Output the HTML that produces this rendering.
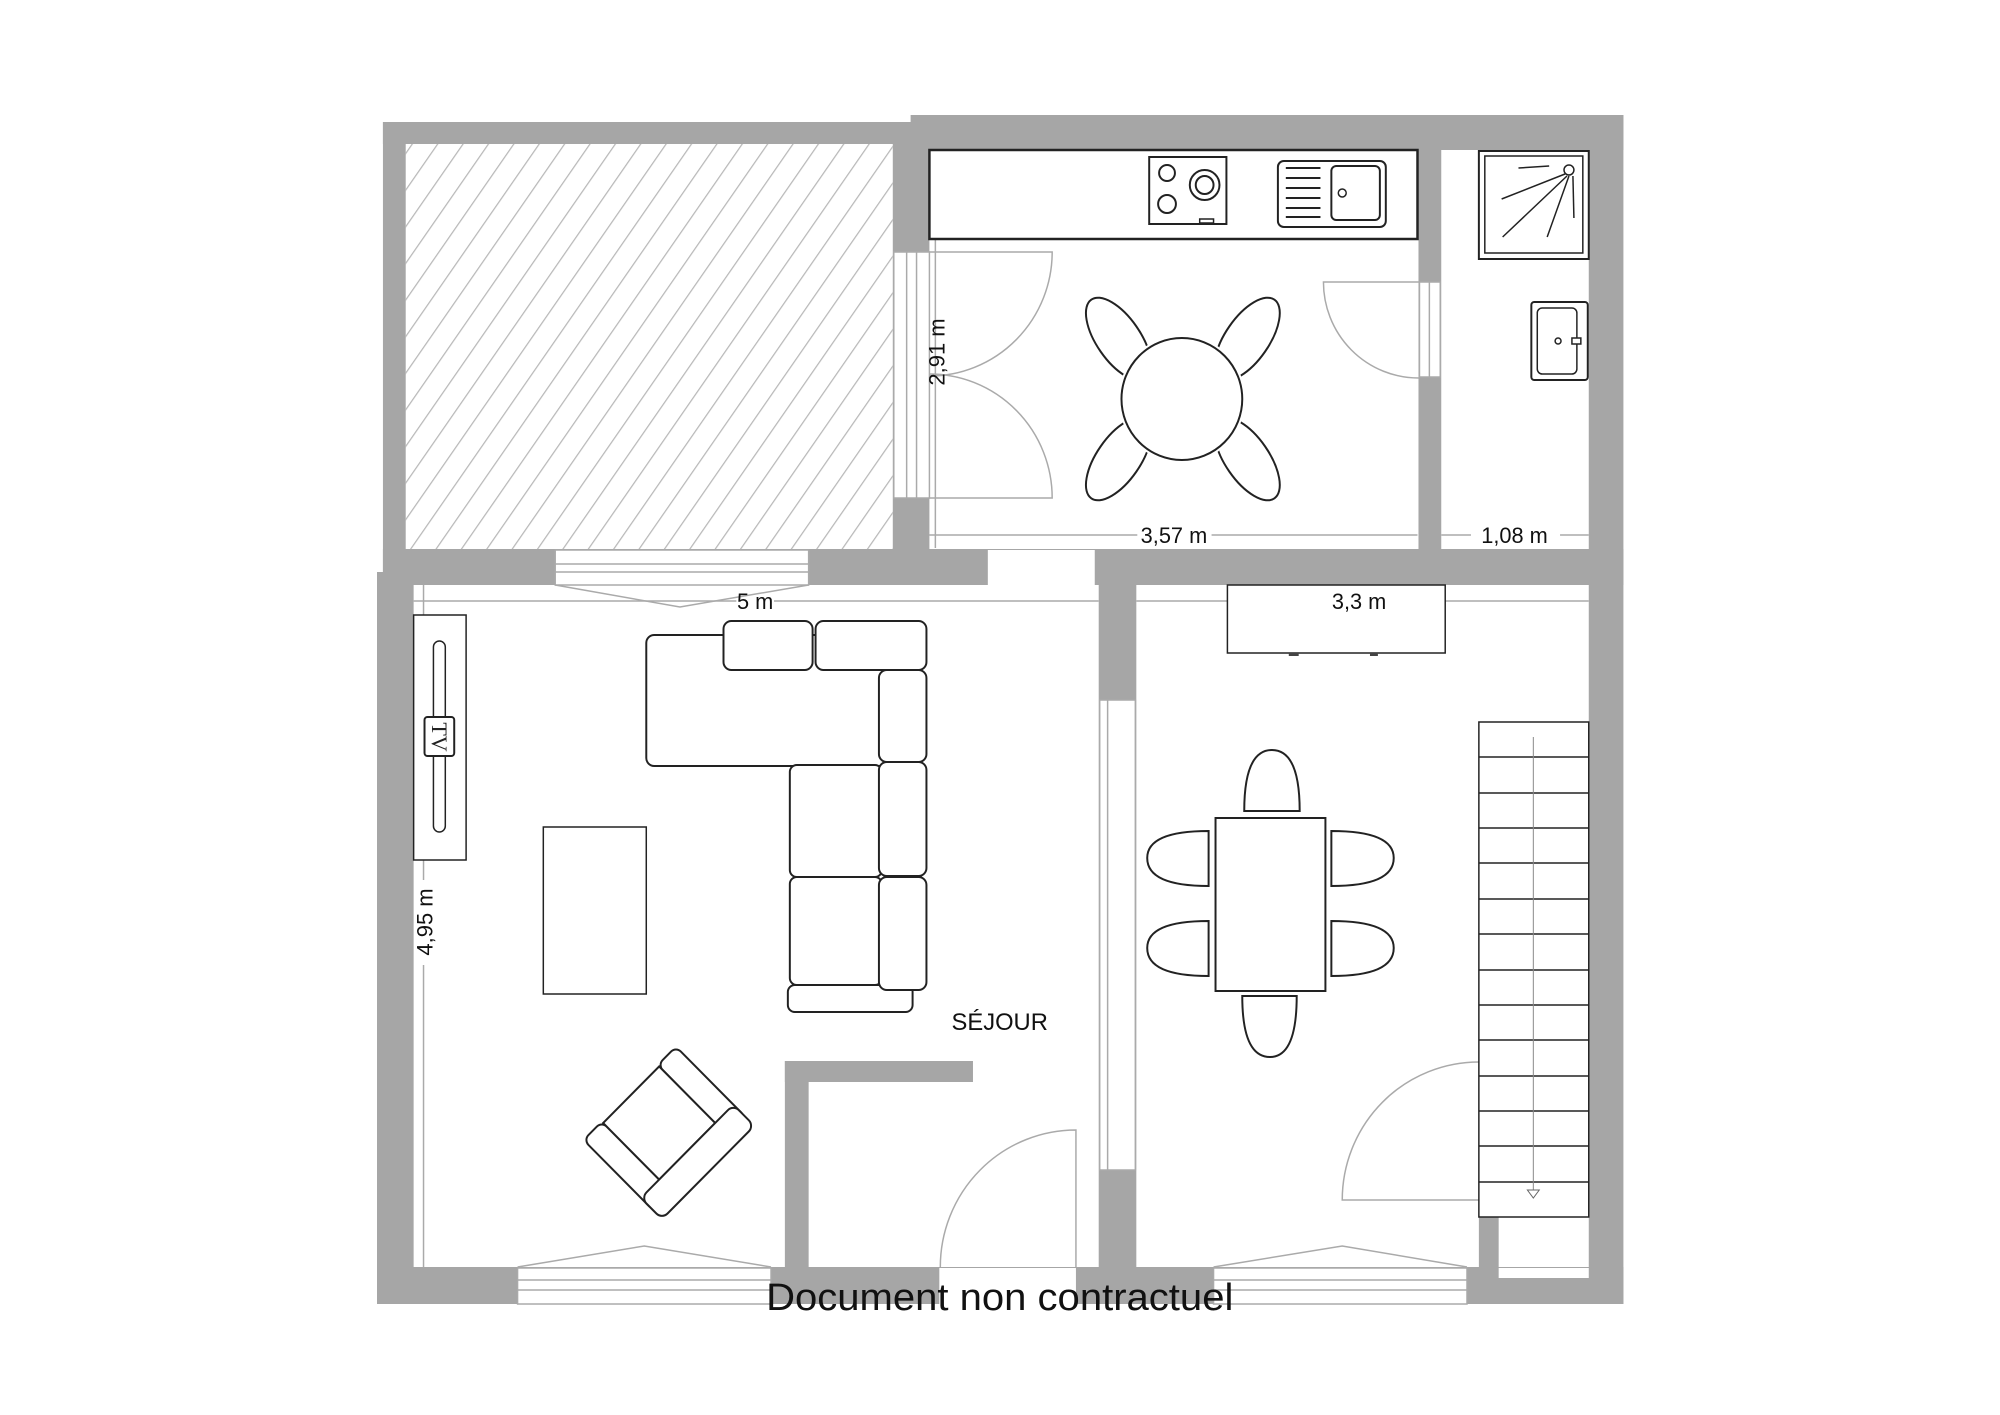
<!DOCTYPE html>
<html><head><meta charset="utf-8"><style>
html,body{margin:0;padding:0;background:#fff}
svg{display:block}
</style></head><body>
<svg width="2000" height="1415" viewBox="0 0 2000 1415" xmlns="http://www.w3.org/2000/svg" font-family="Liberation Sans, sans-serif">
<defs>
<pattern id="h" patternUnits="userSpaceOnUse" width="21" height="21" patternTransform="rotate(35)">
<line x1="0" y1="0" x2="0" y2="21" stroke="#b8b8b8" stroke-width="2.5"/>
</pattern>
</defs>
<rect width="2000" height="1415" fill="#fff"/>
<g transform="translate(377,0) scale(0.99,1) translate(-377,0)">
<g fill="#a6a6a6">
<rect x="383" y="122" width="535" height="22"/>
<rect x="916" y="115" width="720" height="35"/>
<rect x="383" y="122" width="23" height="450"/>
<rect x="898" y="144" width="37" height="405"/>
<rect x="1429" y="150" width="23" height="399"/>
<rect x="1601" y="115" width="35" height="1189"/>
<rect x="383" y="549" width="1253" height="36"/>
<rect x="377" y="572" width="37" height="732"/>
<rect x="1106" y="549" width="38" height="718"/>
<rect x="377" y="1267" width="1259" height="37"/>
<rect x="789" y="1061" width="190" height="21"/>
<rect x="789" y="1061" width="24" height="206"/>
<rect x="1490" y="1217" width="20" height="50"/>
</g>
<rect x="406" y="144" width="492" height="405" fill="url(#h)"/>
<g fill="#fff" stroke="#aaa" stroke-width="1.5">
<rect x="557" y="550" width="256" height="35"/>
<rect x="994" y="550" width="108" height="35" stroke="none"/>
<rect x="1107" y="700" width="36" height="470"/>
<rect x="899" y="252" width="36" height="246"/>
<rect x="1430" y="282" width="21" height="95"/>
<rect x="519" y="1268" width="256" height="36"/>
<rect x="945" y="1268" width="138" height="36" stroke="none"/>
<rect x="1222" y="1268" width="256" height="36"/>
<rect x="1510" y="1268" width="91" height="10" stroke="none"/>
</g>
<g stroke="#aaa" stroke-width="1.5" fill="none">
<line x1="557" y1="564" x2="813" y2="564"/><line x1="557" y1="572" x2="813" y2="572"/>
<line x1="519" y1="1280" x2="775" y2="1280"/><line x1="519" y1="1290" x2="775" y2="1290"/>
<line x1="1222" y1="1280" x2="1478" y2="1280"/><line x1="1222" y1="1290" x2="1478" y2="1290"/>
<line x1="912" y1="252" x2="912" y2="498"/><line x1="922" y1="252" x2="922" y2="498"/>
<line x1="1440" y1="282" x2="1440" y2="377"/>
<line x1="1115" y1="700" x2="1115" y2="1170"/>
<polyline points="557,585 683,607 813,585"/>
<polyline points="519,1267 647,1246 775,1267"/>
<polyline points="1222,1267 1352,1246 1478,1267"/>
<path d="M935,252 H1059 A124,124 0 0 1 935,376"/>
<path d="M935,498 H1059 A124,124 0 0 0 935,374"/>
<path d="M1429,282 H1333 A96,96 0 0 0 1429,378"/>
<path d="M1083,1267 V1130 A137,137 0 0 0 946,1267"/>
<path d="M1490,1200 H1352 A138,138 0 0 1 1490,1062"/>
<line x1="941" y1="152" x2="941" y2="548"/>
<line x1="935" y1="535" x2="1145" y2="535"/><line x1="1220" y1="535" x2="1428" y2="535"/>
<line x1="1452" y1="535" x2="1482" y2="535"/><line x1="1572" y1="535" x2="1601" y2="535"/>
<line x1="414" y1="601" x2="740" y2="601"/><line x1="778" y1="601" x2="1106" y2="601"/>
<line x1="1144" y1="601" x2="1330" y2="601"/><line x1="1410" y1="601" x2="1601" y2="601"/>
<line x1="424" y1="585" x2="424" y2="880"/><line x1="424" y1="965" x2="424" y2="1267"/>
</g>
<g stroke="#222" stroke-width="2" fill="#fff">
<rect x="935" y="150" width="493" height="89" stroke-width="2.5"/>
<rect x="1157" y="157" width="78" height="67"/>
<circle cx="1175" cy="173" r="8"/><circle cx="1175" cy="204" r="9"/>
<circle cx="1213" cy="185" r="15"/><circle cx="1213" cy="185" r="9"/>
<rect x="1208" y="219" width="14" height="4" stroke-width="1.5"/>
<rect x="1287" y="161" width="109" height="66" rx="6"/>
<rect x="1341" y="166" width="49" height="54" rx="5"/>
<circle cx="1352" cy="193" r="4" stroke-width="1.5"/>
<g stroke-width="2"><line x1="1295" y1="168" x2="1330" y2="168"/><line x1="1295" y1="178" x2="1330" y2="178"/><line x1="1295" y1="188" x2="1330" y2="188"/><line x1="1295" y1="198" x2="1330" y2="198"/><line x1="1295" y1="208" x2="1330" y2="208"/><line x1="1295" y1="217" x2="1330" y2="217"/></g>
<ellipse cx="1126" cy="339" rx="22" ry="48" transform="rotate(-35 1126 339)"/>
<ellipse cx="1256" cy="339" rx="22" ry="48" transform="rotate(35 1256 339)"/>
<ellipse cx="1126" cy="459" rx="22" ry="48" transform="rotate(35 1126 459)"/>
<ellipse cx="1256" cy="459" rx="22" ry="48" transform="rotate(-35 1256 459)"/>
<circle cx="1190" cy="399" r="64" fill="#fff" stroke="none"/>
<circle cx="1190" cy="399" r="61"/>
<rect x="1490" y="151" width="111" height="108"/>
<rect x="1496" y="156" width="99" height="97" stroke-width="1.5"/>
<circle cx="1581" cy="170" r="5" stroke-width="1.5"/>
<g stroke-width="1.5"><line x1="1579" y1="176" x2="1514" y2="237"/><line x1="1581" y1="176" x2="1559" y2="237"/><line x1="1585" y1="176" x2="1586" y2="218"/><line x1="1577" y1="174" x2="1513" y2="199"/><line x1="1530" y1="168" x2="1561" y2="166"/></g>
<rect x="1543" y="302" width="57" height="78" rx="3"/>
<rect x="1549" y="308" width="40" height="66" rx="5" stroke-width="1.5"/>
<circle cx="1570" cy="341" r="3" stroke-width="1.5"/>
<rect x="1584" y="338" width="9" height="6" stroke-width="1.5"/>
<rect x="1236" y="585" width="220" height="68" stroke-width="1.5"/>
<rect x="1298" y="653" width="10" height="3" fill="#444" stroke="none"/><rect x="1380" y="653" width="8" height="3" fill="#444" stroke="none"/>
<rect x="414" y="615" width="53" height="245" stroke-width="1.5"/>
<rect x="434" y="641" width="12" height="191" rx="6" stroke-width="1.5"/>
<rect x="425" y="717" width="30" height="39" rx="3"/>
<text x="440" y="737" font-family="Liberation Serif, serif" font-size="22" fill="#222" stroke="none" text-anchor="middle" dominant-baseline="central" transform="rotate(90 440 737)">TV</text>
<rect x="649" y="635" width="248" height="131" rx="8"/>
<rect x="794" y="765" width="93" height="112" rx="7"/>
<rect x="794" y="877" width="93" height="108" rx="7"/>
<rect x="792" y="985" width="126" height="27" rx="7"/>
<rect x="727" y="621" width="90" height="49" rx="8"/>
<rect x="820" y="621" width="112" height="49" rx="8"/>
<rect x="884" y="670" width="48" height="92" rx="8"/>
<rect x="884" y="762" width="48" height="114" rx="8"/>
<rect x="884" y="877" width="48" height="113" rx="8"/>
<rect x="545" y="827" width="104" height="167" stroke-width="1.5"/>
<g transform="translate(662,1123) rotate(45)">
<rect x="-42" y="-66" width="100" height="26" rx="7"/>
<rect x="-42" y="40" width="100" height="26" rx="7"/>
<rect x="-40" y="-40" width="80" height="80"/>
<rect x="40" y="-66" width="30" height="132" rx="8"/>
</g>
<path d="M1253,811 Q1253,750 1281,750 Q1309,750 1309,811 Z"/>
<path d="M1251,996 Q1251,1057 1279,1057 Q1306,1057 1306,996 Z"/>
<path d="M1217,831 Q1155,831 1155,858 Q1155,886 1217,886 Z"/>
<path d="M1217,921 Q1155,921 1155,948 Q1155,976 1217,976 Z"/>
<path d="M1341,831 Q1404,831 1404,858 Q1404,886 1341,886 Z"/>
<path d="M1341,921 Q1404,921 1404,948 Q1404,976 1341,976 Z"/>
<rect x="1224" y="818" width="111" height="173"/>
<rect x="1490" y="722" width="111" height="495" stroke-width="1.5"/>
</g>
<g stroke="#222" stroke-width="1.5">
<line x1="1490" y1="757" x2="1601" y2="757"/><line x1="1490" y1="793" x2="1601" y2="793"/><line x1="1490" y1="828" x2="1601" y2="828"/><line x1="1490" y1="863" x2="1601" y2="863"/><line x1="1490" y1="899" x2="1601" y2="899"/><line x1="1490" y1="934" x2="1601" y2="934"/><line x1="1490" y1="970" x2="1601" y2="970"/><line x1="1490" y1="1005" x2="1601" y2="1005"/><line x1="1490" y1="1040" x2="1601" y2="1040"/><line x1="1490" y1="1076" x2="1601" y2="1076"/><line x1="1490" y1="1111" x2="1601" y2="1111"/><line x1="1490" y1="1146" x2="1601" y2="1146"/><line x1="1490" y1="1182" x2="1601" y2="1182"/>
</g>
<line x1="1545" y1="737" x2="1545" y2="1195" stroke="#888" stroke-width="1"/>
<path d="M1539,1190 L1551,1190 L1545,1198 Z" fill="#fff" stroke="#666" stroke-width="1"/>
<g fill="#111" font-size="22">
<text x="1182" y="543" text-anchor="middle">3,57 m</text>
<text x="1526" y="543" text-anchor="middle">1,08 m</text>
<text x="759" y="609" text-anchor="middle">5 m</text>
<text x="1369" y="609" text-anchor="middle">3,3 m</text>
<text x="0" y="0" text-anchor="middle" transform="translate(950,352) rotate(-90)">2,91 m</text>
<text x="0" y="0" text-anchor="middle" transform="translate(433,922) rotate(-90)">4,95 m</text>
<text x="1006" y="1030" text-anchor="middle" font-size="24">SÉJOUR</text>
<text x="1006" y="1310" text-anchor="middle" font-size="38" textLength="472" lengthAdjust="spacingAndGlyphs">Document non contractuel</text>
</g>
</g>
</svg>
</body></html>
